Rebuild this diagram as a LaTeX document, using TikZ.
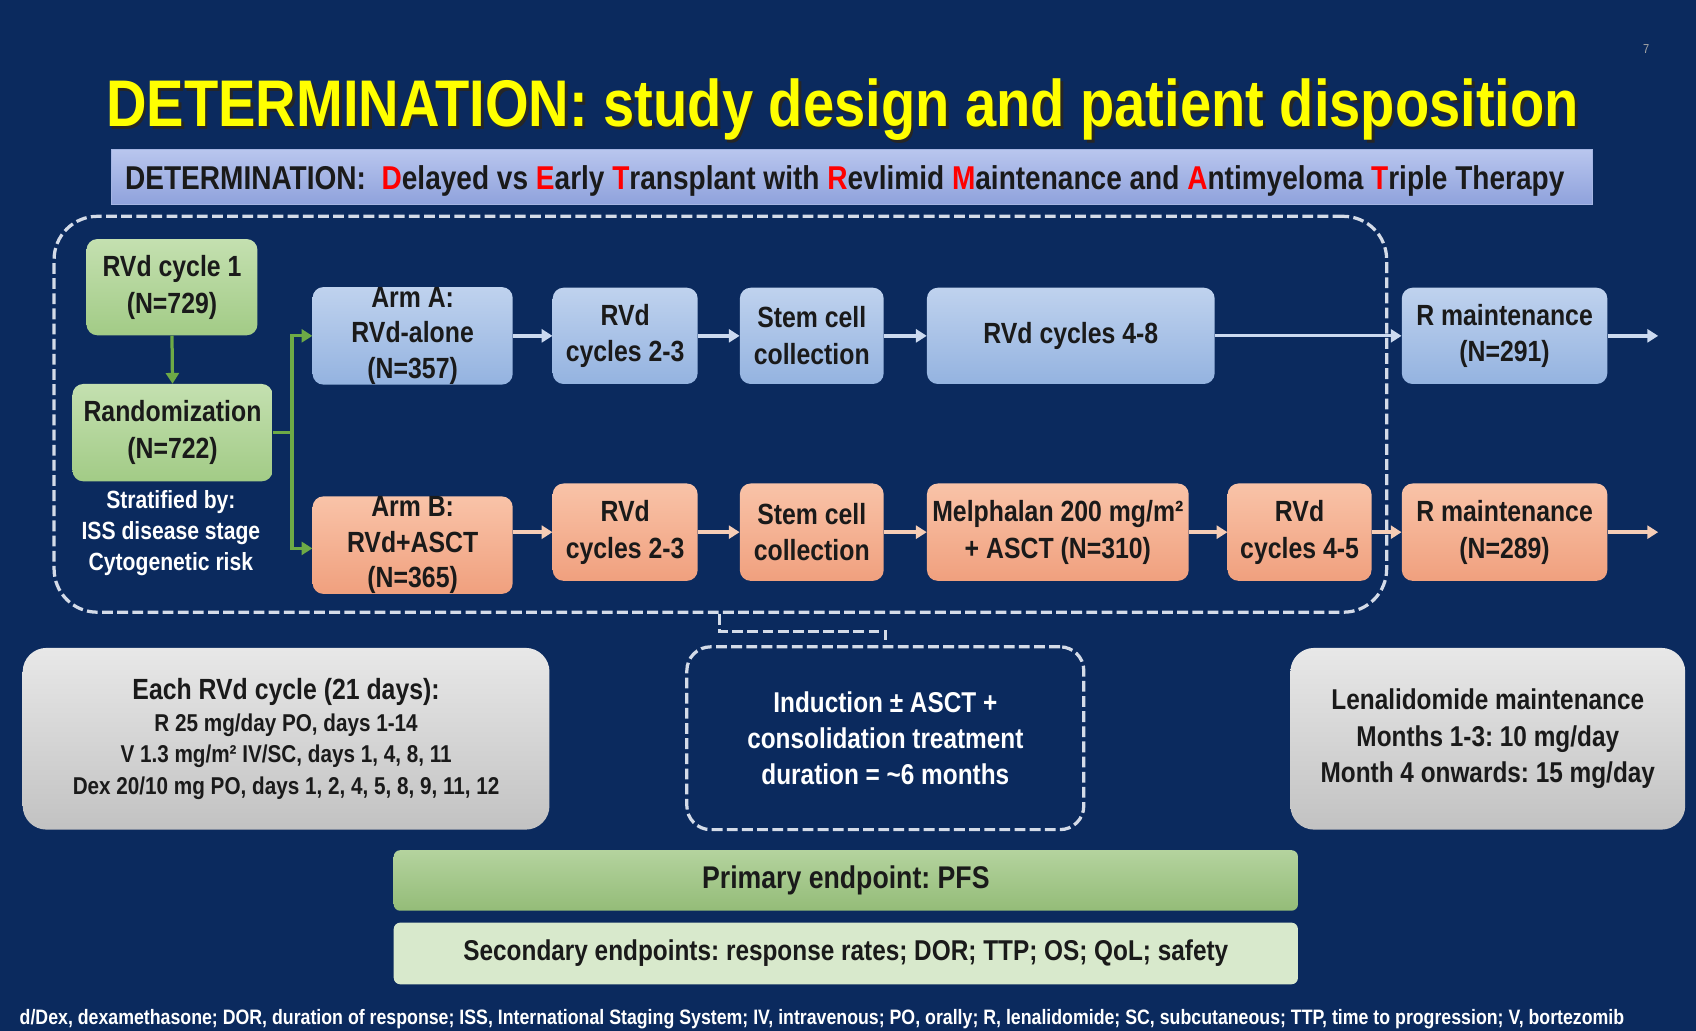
\documentclass[tikz,border=0pt]{standalone}
\usepackage{fontspec}
\setmainfont[FakeStretch=0.85]{Liberation Sans}
\usetikzlibrary{arrows.meta}
\frenchspacing
\definecolor{bg}{HTML}{0B2A5E}
\definecolor{titley}{HTML}{FFFF00}
\definecolor{txt}{HTML}{1A1A1A}
\definecolor{bant}{HTML}{B9C6EE}
\definecolor{banb}{HTML}{8FA2DC}
\definecolor{bluet}{HTML}{BFD2EE}
\definecolor{blueb}{HTML}{94B3E0}
\definecolor{oranget}{HTML}{F9C3A8}
\definecolor{orangeb}{HTML}{F0A07E}
\definecolor{greent}{HTML}{C4E0B0}
\definecolor{greenb}{HTML}{A2CB86}
\definecolor{grayt}{HTML}{E8E8E8}
\definecolor{grayb}{HTML}{C2C2C2}
\definecolor{pgt}{HTML}{B4D39E}
\definecolor{pgb}{HTML}{94BC78}
\definecolor{sg}{HTML}{D8E9CC}
\definecolor{arrblue}{HTML}{CCDAF0}
\definecolor{arrorange}{HTML}{F6CDB6}
\definecolor{arrgreen}{HTML}{6EAA46}
\definecolor{dashc}{HTML}{D4DBE8}
\begin{document}
\begin{tikzpicture}[x=1pt,y=-1pt,
  box/.style={rounded corners=10pt, inner sep=0pt, align=center, text=txt,
    font=\fontsize{27}{34}\selectfont\bfseries},
  bluebox/.style={box, top color=bluet, bottom color=blueb},
  orangebox/.style={box, top color=oranget, bottom color=orangeb},
  greenbox/.style={box, top color=greent, bottom color=greenb},
  graybox/.style={box, rounded corners=22pt, top color=grayt, bottom color=grayb},
  dashbox/.style={draw=dashc, line width=3pt, dash pattern=on 10pt off 4pt, inner sep=0pt, align=center},
  dashline/.style={draw=dashc, line width=3pt, dash pattern=on 10pt off 4pt},
  arrA/.style={draw=arrblue, line width=3.5pt, -{Triangle[length=10pt,width=12pt]}},
  arrB/.style={draw=arrorange, line width=3.5pt, -{Triangle[length=10pt,width=12pt]}},
  arrG/.style={draw=arrgreen, line width=3pt, -{Triangle[length=10pt,width=12pt]}},
  lineG/.style={draw=arrgreen, line width=3pt},
]
\fill[bg] (0,0) rectangle (1568,953);
\useasboundingbox (0,0) rectangle (1568,953);

% page number
\node[text=gray!70, font=\fontsize{12}{12}\selectfont, anchor=base] (pnum) at (1522,49) {7};

% title
\node[text=black!85, font=\fontsize{61}{61}\selectfont\bfseries, anchor=base] (titles) at (781.5,119.5)
  {DETERMINATION: study design and patient disposition};
\node[text=titley, font=\fontsize{61}{61}\selectfont\bfseries, anchor=base] (title) at (779,117)
  {DETERMINATION: study design and patient disposition};

% banner
\node[draw=banb!80!white, line width=1pt, top color=bant, bottom color=banb, minimum width=1369pt, minimum height=51pt, inner sep=0pt] (banner) at (787.5,163.5) {};
\node[text=txt, font=\fontsize{30.5}{30.5}\selectfont\bfseries, anchor=base] (bantext) at (781,175)
  {DETERMINATION:\ \ {\color{red}D}elayed vs {\color{red}E}arly {\color{red}T}ransplant with {\color{red}R}evlimid {\color{red}M}aintenance and {\color{red}A}ntimyeloma {\color{red}T}riple Therapy};

% big dashed box
\node[dashbox, rounded corners=40pt, minimum width=1232pt, minimum height=366pt] (big) at (666,383) {};

% green boxes
\node[greenbox, minimum width=158pt, minimum height=89pt] (rvd1) at (159,265.5) {RVd cycle 1\\(N=729)};
\node[greenbox, minimum width=185pt, minimum height=90pt] (rand) at (159.5,400) {Randomization\\(N=722)};
\node[text=white, align=center, font=\fontsize{23}{29}\selectfont\bfseries] (strat) at (158,493)
  {Stratified by:\\ISS disease stage\\Cytogenetic risk};

% blue row
\node[bluebox, minimum width=185pt, minimum height=89pt, font=\fontsize{27}{33}\selectfont\bfseries] (armA) at (381.5,310.5) {Arm A:\\RVd-alone\\(N=357)};
\node[bluebox, minimum width=134pt, minimum height=89pt] (rvdA) at (578,310.5) {RVd\\cycles 2-3};
\node[bluebox, minimum width=133pt, minimum height=89pt] (stemA) at (750.5,310.5) {Stem cell\\collection};
\node[bluebox, minimum width=266pt, minimum height=89pt] (rvd48) at (990,310.5) {RVd cycles 4-8};
\node[bluebox, minimum width=190pt, minimum height=89pt] (rmA) at (1391,310.5) {R maintenance\\(N=291)};
\coordinate (endA) at (1533,310.5);

% orange row
\node[orangebox, minimum width=185pt, minimum height=90pt, font=\fontsize{27}{33}\selectfont\bfseries] (armB) at (381.5,504) {Arm B:\\RVd+ASCT\\(N=365)};
\node[orangebox, minimum width=134pt, minimum height=90pt] (rvdB) at (578,492) {RVd\\cycles 2-3};
\node[orangebox, minimum width=133pt, minimum height=90pt] (stemB) at (750.5,492) {Stem cell\\collection};
\node[orangebox, minimum width=242pt, minimum height=90pt] (mel) at (978,492) {Melphalan 200 mg/m²\\+ ASCT (N=310)};
\node[orangebox, minimum width=133pt, minimum height=90pt] (rvd45) at (1201.5,492) {RVd\\cycles 4-5};
\node[orangebox, minimum width=190pt, minimum height=90pt] (rmB) at (1391,492) {R maintenance\\(N=289)};
\coordinate (endB) at (1533,492);

% green connectors
\draw[arrG] (rvd1.south) -- (rand.north);
\coordinate (split) at (270,400);
\draw[lineG] (rand.east) -- (split);
\draw[arrG] (split) |- (armA.west);
\draw[arrG] (split) |- (armB.west |- 0,507);

% blue arrows
\draw[arrA] (armA.east) -- (rvdA.west);
\draw[arrA] (rvdA.east) -- (stemA.west);
\draw[arrA] (stemA.east) -- (rvd48.west);
\draw[arrA, line width=3pt] (rvd48.east) -- (rmA.west);
\draw[arrA] (rmA.east) -- (endA);

% orange arrows
\draw[arrB] (armB.east |- rvdB.west) -- (rvdB.west);
\draw[arrB] (rvdB.east) -- (stemB.west);
\draw[arrB] (stemB.east) -- (mel.west);
\draw[arrB] (mel.east) -- (rvd45.west);
\draw[arrB] (rvd45.east) -- (rmB.west);
\draw[arrB] (rmB.east) -- (endB);

% bottom boxes
\node[graybox, minimum width=487pt, minimum height=168pt, font=\fontsize{22.5}{29}\selectfont\bfseries] (cyc) at (264.5,683)
  {{\fontsize{27}{30}\selectfont Each RVd cycle (21 days):}\\[1pt]
   R 25 mg/day PO, days 1-14\\
   V 1.3 mg/m² IV/SC, days 1, 4, 8, 11\\
   Dex 20/10 mg PO, days 1, 2, 4, 5, 8, 9, 11, 12};
\node[dashbox, rounded corners=22pt, minimum width=367pt, minimum height=169pt, text=white,
  font=\fontsize{26.5}{33.5}\selectfont\bfseries] (ind) at (818.5,682.5)
  {Induction ± ASCT +\\consolidation treatment\\duration = \textasciitilde 6 months};
\node[graybox, minimum width=365pt, minimum height=168pt, font=\fontsize{26.5}{33.5}\selectfont\bfseries] (len) at (1375.5,683)
  {Lenalidomide maintenance\\Months 1-3: 10 mg/day\\Month 4 onwards: 15 mg/day};
\draw[dashline] (big.south -| 665,0) -- ++(0,16) -| (ind.north);

% endpoints
\node[box, rounded corners=6pt, top color=pgt, bottom color=pgb, minimum width=836pt, minimum height=56pt, font=\fontsize{29}{30}\selectfont\bfseries] (prim) at (782,814)
  {Primary endpoint: PFS};
\node[box, rounded corners=6pt, fill=sg, minimum width=836pt, minimum height=57pt, font=\fontsize{26.5}{30}\selectfont\bfseries] (sec) at (782,881.5)
  {Secondary endpoints: response rates; DOR; TTP; OS; QoL; safety};

% footnote
\node[text=white, anchor=base west, inner sep=0pt, font=\fontsize{19.3}{19.3}\selectfont\bfseries] (foot) at (18,947)
  {d/Dex, dexamethasone; DOR, duration of response; ISS, International Staging System; IV, intravenous; PO, orally; R, lenalidomide; SC, subcutaneous; TTP, time to progression; V, bortezomib};
\end{tikzpicture}
\end{document}
